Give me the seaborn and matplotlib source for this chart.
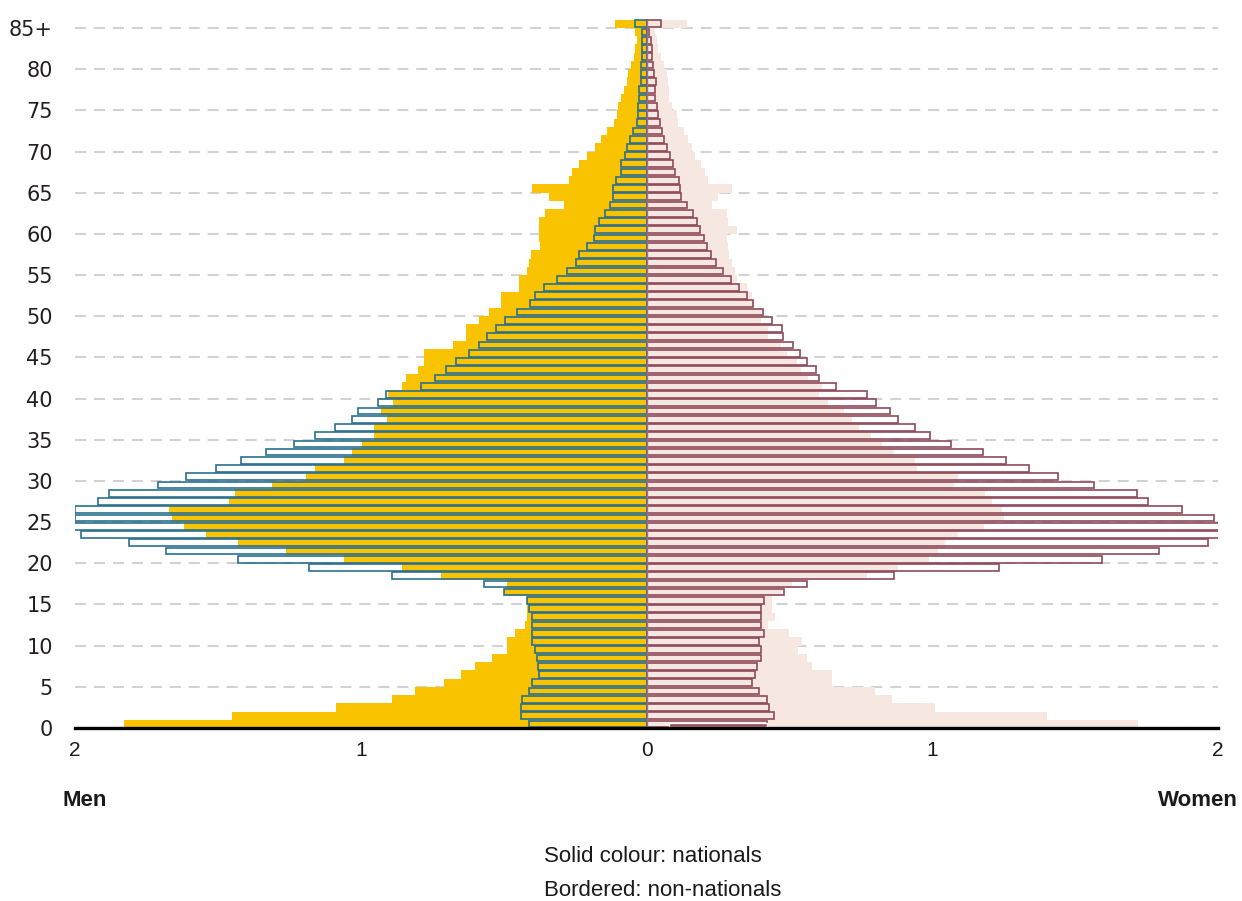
import numpy as np
import pandas as pd
import matplotlib
matplotlib.use("Agg")
import matplotlib.pyplot as plt
import seaborn as sns

# Population pyramid, % of total population by single year of age (0 .. 85+)
ages = list(range(86))
age_labels = [str(a) for a in range(0, 85, 5)] + ["85+"]

men_nationals = [1.83, 1.45, 1.085, 0.89, 0.81, 0.71, 0.65, 0.60, 0.54, 0.49,
                 0.49, 0.46, 0.424, 0.42, 0.42, 0.42, 0.50, 0.49, 0.72, 0.855,
                 1.06, 1.26, 1.43, 1.54, 1.62, 1.66, 1.67, 1.46, 1.44, 1.31,
                 1.19, 1.16, 1.06, 1.03, 0.997, 0.953, 0.953, 0.907, 0.93, 0.887,
                 0.905, 0.855, 0.84, 0.80, 0.78, 0.78, 0.678, 0.633, 0.633, 0.585,
                 0.55, 0.51, 0.51, 0.446, 0.446, 0.417, 0.41, 0.405, 0.372, 0.376,
                 0.376, 0.376, 0.355, 0.29, 0.34, 0.40, 0.27, 0.26, 0.235, 0.21,
                 0.18, 0.16, 0.14, 0.115, 0.105, 0.10, 0.09, 0.08, 0.07, 0.065,
                 0.055, 0.045, 0.04, 0.035, 0.04, 0.11]

men_non_nationals = [0.41, 0.44, 0.44, 0.435, 0.41, 0.40, 0.375, 0.38, 0.385, 0.39,
                     0.40, 0.40, 0.40, 0.40, 0.41, 0.42, 0.50, 0.57, 0.89, 1.18,
                     1.43, 1.68, 1.81, 1.98, 2.02, 2.0, 2.0, 1.92, 1.88, 1.71,
                     1.61, 1.505, 1.42, 1.33, 1.235, 1.16, 1.09, 1.03, 1.01, 0.94,
                     0.91, 0.79, 0.74, 0.70, 0.668, 0.62, 0.588, 0.56, 0.528, 0.497,
                     0.452, 0.407, 0.39, 0.36, 0.313, 0.28, 0.247, 0.237, 0.21, 0.184,
                     0.18, 0.168, 0.145, 0.128, 0.116, 0.116, 0.107, 0.09, 0.09, 0.076,
                     0.07, 0.058, 0.046, 0.035, 0.03, 0.03, 0.025, 0.025, 0.02, 0.02,
                     0.02, 0.015, 0.015, 0.015, 0.015, 0.04]

women_nationals = [1.72, 1.40, 1.01, 0.86, 0.80, 0.65, 0.65, 0.58, 0.56, 0.53,
                   0.545, 0.50, 0.425, 0.45, 0.44, 0.44, 0.47, 0.51, 0.77, 0.88,
                   0.99, 1.02, 1.045, 1.09, 1.18, 1.25, 1.245, 1.21, 1.185, 1.075,
                   1.09, 0.945, 0.94, 0.865, 0.825, 0.785, 0.745, 0.72, 0.69, 0.635,
                   0.605, 0.615, 0.565, 0.54, 0.525, 0.49, 0.47, 0.425, 0.425, 0.40,
                   0.40, 0.375, 0.37, 0.35, 0.315, 0.31, 0.30, 0.29, 0.285, 0.28,
                   0.315, 0.285, 0.28, 0.23, 0.25, 0.30, 0.215, 0.205, 0.19, 0.17,
                   0.16, 0.145, 0.13, 0.11, 0.105, 0.09, 0.08, 0.08, 0.075, 0.07,
                   0.06, 0.05, 0.04, 0.035, 0.03, 0.14]

women_non_nationals = [0.42, 0.447, 0.43, 0.42, 0.395, 0.37, 0.38, 0.385, 0.40, 0.40,
                       0.395, 0.41, 0.40, 0.40, 0.40, 0.41, 0.48, 0.56, 0.866, 1.235,
                       1.595, 1.795, 1.965, 2.025, 2.03, 1.985, 1.875, 1.755, 1.715, 1.565,
                       1.44, 1.34, 1.257, 1.176, 1.066, 0.992, 0.941, 0.88, 0.853, 0.804,
                       0.77, 0.663, 0.605, 0.593, 0.561, 0.538, 0.514, 0.479, 0.475, 0.438,
                       0.408, 0.373, 0.35, 0.323, 0.296, 0.268, 0.243, 0.225, 0.211, 0.20,
                       0.188, 0.176, 0.164, 0.141, 0.121, 0.117, 0.115, 0.10, 0.091, 0.082,
                       0.07, 0.061, 0.053, 0.047, 0.041, 0.035, 0.03, 0.03, 0.033, 0.026,
                       0.024, 0.018, 0.018, 0.015, 0.01, 0.05]

# small dark mark on the women's side of age 0 (start, end)
women_age0_mark = [0.08, 0.42]

YELLOW = "#F9C300"
PINK = "#F6E8E0"
BLUE = "#2B6F8E"
MAROON = "#8E4A5A"

sns.set_style("white")
plt.rcParams["font.family"] = ["Liberation Sans", "DejaVu Sans"]
plt.rcParams["text.color"] = "#1a1a1a"

df = pd.DataFrame({
    "pos": np.array(ages) + 0.5,
    "men_nat": -np.array(men_nationals),
    "men_non": -np.array(men_non_nationals),
    "women_nat": women_nationals,
    "women_non": women_non_nationals,
})

fig = plt.figure(figsize=(12.42, 9.01), dpi=100)
ax = fig.add_axes([0.0604, 0.192, 0.9203, 0.7998])

# solid colour: nationals
for col, c in [("men_nat", YELLOW), ("women_nat", PINK)]:
    sns.barplot(data=df, x=col, y="pos", orient="y", native_scale=True,
                width=1.0, color=c, saturation=1, linewidth=0,
                errorbar=None, ax=ax, zorder=2)

# bordered: non-nationals
for col, c in [("men_non", BLUE), ("women_non", MAROON)]:
    sns.barplot(data=df, x=col, y="pos", orient="y", native_scale=True,
                width=0.82, color=c, saturation=1, fill=False, linewidth=1.2,
                errorbar=None, ax=ax, zorder=3)

ax.barh(0.35, women_age0_mark[1] - women_age0_mark[0], left=women_age0_mark[0],
        height=0.45, color="#9B4A5A", zorder=4)

ax.plot([0, 0], [0, 86], color="#7f7c90", lw=1.0, zorder=5)

ax.set_xlim(-2, 2)
ax.set_ylim(0, 87.5)
ax.set_xticks([-2, -1, 0, 1, 2])
ax.set_xticklabels(["2", "1", "0", "1", "2"], fontsize=15, color="#1a1a1a")
ax.set_yticks(list(range(0, 86, 5)))
ax.set_yticklabels(age_labels, fontsize=15, color="#231f20", family="DejaVu Sans")
ax.set_xlabel("")
ax.set_ylabel("")

ax.set_axisbelow(True)
ax.yaxis.grid(True, linestyle=(0, (5.3, 3.8)), color="#d2d2d2", lw=1.5)
ax.xaxis.grid(False)

for s in ["top", "left", "right"]:
    ax.spines[s].set_visible(False)
ax.spines["bottom"].set_linewidth(2.4)
ax.spines["bottom"].set_color("black")
ax.spines["bottom"].set_zorder(6)

ax.tick_params(axis="x", direction="out", length=7, width=2.4, color="black", pad=2)
ax.tick_params(axis="y", length=0, pad=16)

fig.text(62 / 1242, 1 - 800 / 901, "Men", ha="left", va="center",
         fontsize=16, fontweight="bold")
fig.text(1238 / 1242, 1 - 800 / 901, "Women", ha="right", va="center",
         fontsize=16, fontweight="bold")
fig.text(653 / 1242, 1 - 856 / 901, "Solid colour: nationals", ha="center",
         va="center", fontsize=16)
fig.text(663 / 1242, 1 - 890 / 901, "Bordered: non-nationals", ha="center",
         va="center", fontsize=16)

fig.savefig("out.png", dpi=100)
